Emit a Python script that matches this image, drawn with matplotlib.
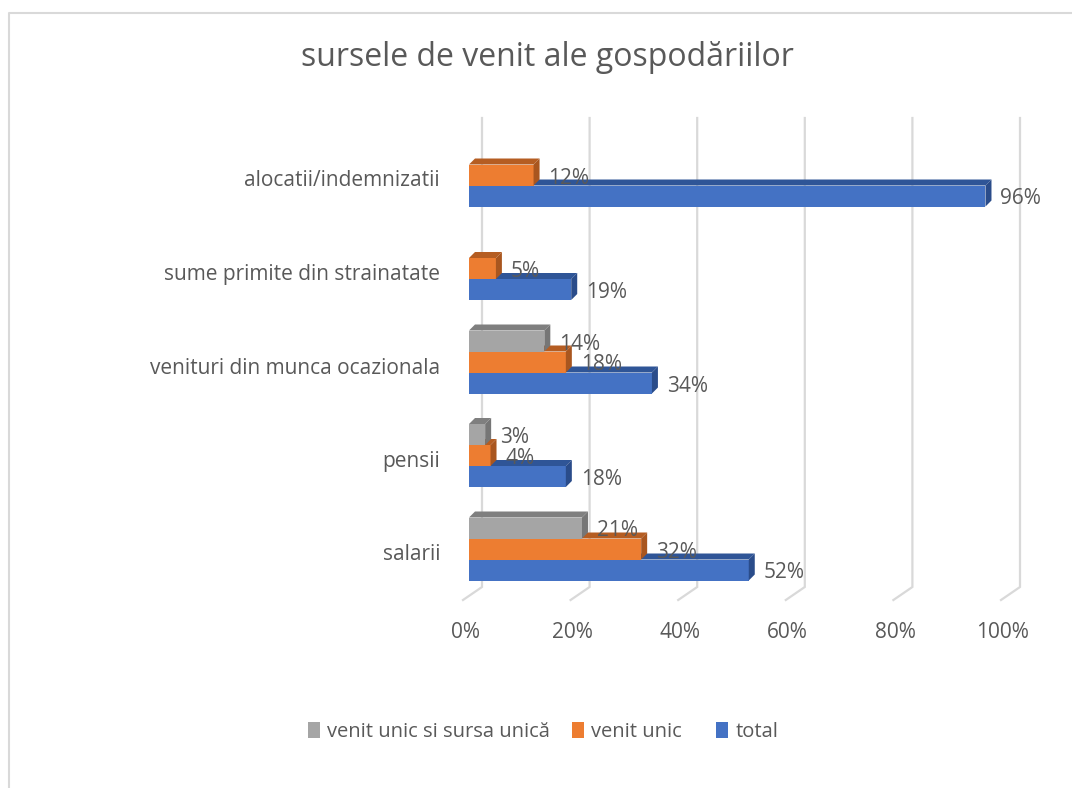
import matplotlib
matplotlib.use("Agg")
import matplotlib.pyplot as plt
from matplotlib.patches import Polygon, Patch
from matplotlib.lines import Line2D
from matplotlib.transforms import offset_copy

plt.rcParams['font.family'] = ['Open Sans', 'DejaVu Sans']

# ---------------- data ----------------
title = "sursele de venit ale gospodăriilor"
categories = ["salarii", "pensii", "venituri din munca ocazionala",
              "sume primite din strainatate", "alocatii/indemnizatii"]
total = [52, 18, 34, 19, 96]
venit_unic = [32, 4, 18, 5, 12]
venit_unic_sursa_unica = [21, 3, 14, 0, 0]
series_names = ["total", "venit unic", "venit unic si sursa unică"]
xticks = [0, 20, 40, 60, 80, 100]
xtick_labels = ["0%", "20%", "40%", "60%", "80%", "100%"]

# ---------------- style ----------------
front_cols = ["#4472C4", "#ED7D31", "#A5A5A5"]
top_cols = ["#2F5597", "#B55D22", "#7F7F7F"]
side_cols = ["#2A4C8A", "#A9561F", "#767676"]
txt = "#595959"
grid_col = "#D9D9D9"

W, H = 1072, 788
fig = plt.figure(figsize=(W / 100, H / 100), dpi=100)

# frame of the chart area (left and top edges visible)
fig.add_artist(Line2D([9 / W, 9 / W, 1.0], [0, 1 - 13 / H, 1 - 13 / H],
                      transform=fig.transFigure, color="#D9D9D9", lw=1.5))

# axes mapped so that x=0 -> px 469, 5.38 px per %, y unit -> 93.5 px
x0px, xs = 469, 5.38
y0px, ys = 549, 93.5
xl = (-10, 110)
yl = (-1.0, 4.8)
left = (x0px + xs * xl[0]) / W
right = (x0px + xs * xl[1]) / W
bottom = (H - (y0px - ys * yl[0])) / H
top = (H - (y0px - ys * yl[1])) / H
ax = fig.add_axes([left, bottom, right - left, top - bottom])
ax.set_xlim(*xl)
ax.set_ylim(*yl)
ax.axis("off")


def dx(p):
    return p / xs


def dy(p):
    return p / ys


# 3D gridlines (back wall + floor diagonal)
y_top = dy(y0px - 118)
y_back_floor = -dy(587 - y0px)
y_front_floor = -dy(600 - y0px)
for t, lab in zip(xticks, xtick_labels):
    xb = t + dx(13)
    xf = t - dx(6)
    ax.plot([xb, xb, xf], [y_top, y_back_floor, y_front_floor],
            color=grid_col, lw=1.6, solid_joinstyle="miter", zorder=1)
    ax.text(xf + dx(2), -dy(632 - y0px), lab, ha="center",
            va="center", fontsize=15, color=txt)

# bars
h = dy(21)
ddx, ddy = dx(6), dy(6)
series = [total, venit_unic, venit_unic_sursa_unica]
for si, vals in enumerate(series):
    for ci, v in enumerate(vals):
        if v <= 0:
            continue
        yc = ci + (si - 1) * h
        yb, ytp = yc - h / 2, yc + h / 2
        z = 2 + si
        ax.add_patch(Polygon([(0, yb), (v, yb), (v, ytp), (0, ytp)], closed=True,
                             facecolor=front_cols[si], edgecolor="none", zorder=z))
        ax.add_patch(Polygon([(0, ytp), (v, ytp), (v + ddx, ytp + ddy), (ddx, ytp + ddy)],
                             closed=True, facecolor=top_cols[si], edgecolor="none", zorder=z))
        ax.add_patch(Polygon([(v, yb), (v, ytp), (v + ddx, ytp + ddy), (v + ddx, yb + ddy)],
                             closed=True, facecolor=side_cols[si], edgecolor="none", zorder=z))
        ax.text(v + dx(15), yc - dy(3), f"{v}%", ha="left", va="center",
                fontsize=15, color=txt, zorder=10)

# category labels
lab_tr = offset_copy(ax.transData, fig=fig, x=-29, y=0, units="dots")
for ci, c in enumerate(categories):
    ax.text(0, ci - dy(6), c, transform=lab_tr, ha="right", va="center",
            fontsize=15, color=txt)

# title
fig.text(547 / W, 1 - 57 / H, title, ha="center", va="center", fontsize=23, color=txt)

# legend: one entry per legend so positions match the reference
leg_x = [308, 572, 716]
for k, i in enumerate((2, 1, 0)):
    hnd = [Patch(facecolor=front_cols[i], edgecolor="none", label=series_names[i])]
    fig.legend(handles=hnd, loc="center left", bbox_to_anchor=(leg_x[k] / W, 1 - 732 / H),
               frameon=False, fontsize=14.5, labelcolor=txt, borderpad=0, borderaxespad=0,
               handlelength=0.6, handleheight=0.85, handletextpad=0.35)

fig.savefig("out.png", dpi=100, facecolor="white")
